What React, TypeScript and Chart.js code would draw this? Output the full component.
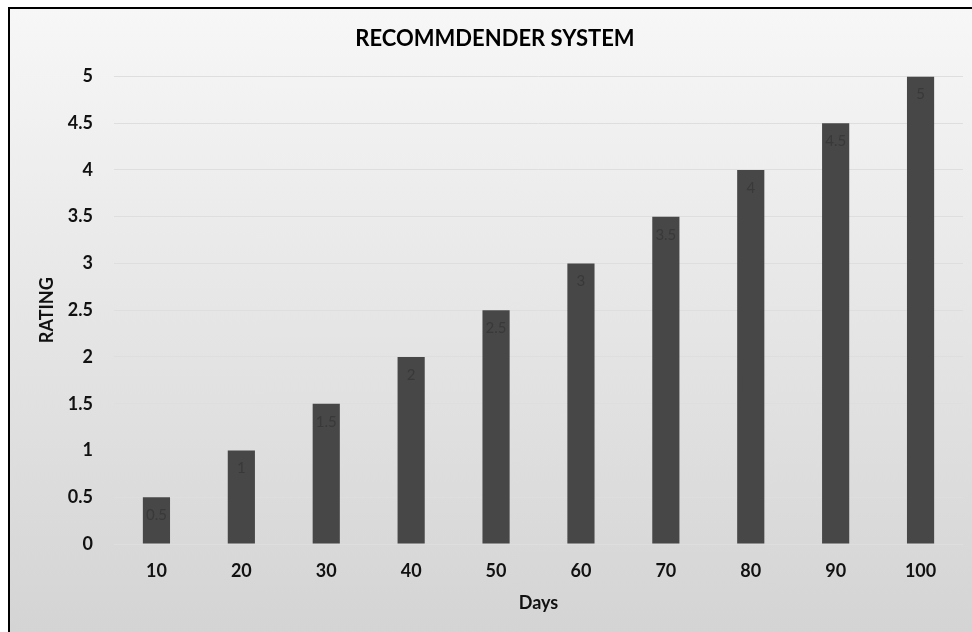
import React, { useEffect, useRef } from "react";
import { Chart, registerables } from "chart.js";

Chart.register(...registerables);

const days = ["10", "20", "30", "40", "50", "60", "70", "80", "90", "100"];
const ratings = [0.5, 1, 1.5, 2, 2.5, 3, 3.5, 4, 4.5, 5];
const yMin = 0;
const yMax = 5;
const yStep = 0.5;
const chartTitle = "RECOMMDENDER SYSTEM";
const xTitle = "Days";
const yTitle = "RATING";

const FONT = "Lato, 'Open Sans', 'Liberation Sans', sans-serif";

const dataLabelPlugin = {
  id: "innerLabels",
  afterDatasetsDraw(chart: any) {
    const { ctx } = chart;
    const meta = chart.getDatasetMeta(0);
    ctx.save();
    ctx.font = `15px ${FONT}`;
    ctx.fillStyle = "#393939";
    ctx.textAlign = "center";
    ctx.textBaseline = "middle";
    meta.data.forEach((el: any, i: number) => {
      ctx.fillText(String(ratings[i]), el.x, el.y + 18);
    });
    ctx.restore();
  },
};

export default function App() {
  const ref = useRef<HTMLCanvasElement | null>(null);
  useEffect(() => {
    if (!ref.current) return;
    const chart = new Chart(ref.current, {
      type: "bar",
      data: {
        labels: days,
        datasets: [
          {
            data: ratings,
            backgroundColor: "#474747",
            borderWidth: 0,
            categoryPercentage: 1,
            barPercentage: 0.32,
          },
        ],
      },
      options: {
        responsive: false,
        animation: false,
        layout: { padding: { left: 17, right: 9, top: 0, bottom: 0 } },
        plugins: {
          legend: { display: false },
          tooltip: { enabled: false },
          title: {
            display: true,
            text: chartTitle,
            color: "#000",
            font: { family: FONT, size: 22, weight: "bold" },
            padding: { top: 17, bottom: 24 },
          },
        },
        scales: {
          x: {
            grid: { display: false, drawTicks: false },
            border: { display: false },
            ticks: {
              color: "#111",
              font: { family: FONT, size: 18, weight: "bold" },
              padding: 16,
            },
            title: {
              display: true,
              text: xTitle,
              color: "#111",
              font: { family: FONT, size: 18, weight: "bold" },
              padding: { top: 4, bottom: 18 },
            },
            afterFit(scale: any) {
              scale.height = 88;
            },
          },
          y: {
            min: yMin,
            max: yMax,
            grid: { color: "#dedede", drawTicks: false, lineWidth: 1 },
            border: { display: false },
            ticks: {
              stepSize: yStep,
              color: "#111",
              font: { family: FONT, size: 18, weight: "bold" },
              padding: 21,
              callback: (v: any) => String(Number(v)),
            },
            title: {
              display: true,
              text: yTitle,
              color: "#111",
              font: { family: FONT, size: 18, weight: "bold" },
              padding: { top: 9, bottom: 4 },
            },
            afterFit(scale: any) {
              scale.width = 87;
            },
          },
        },
      },
      plugins: [dataLabelPlugin],
    } as any);
    return () => chart.destroy();
  }, []);

  return (
    <div
      style={{
        position: "fixed",
        left: 8,
        top: 7,
        width: 964,
        height: 625,
        boxSizing: "border-box",
        borderTop: "2px solid #000",
        borderLeft: "2px solid #000",
        background: "linear-gradient(to bottom, #f7f7f7, #d4d4d4)",
      }}
    >
      <canvas
        ref={ref}
        width={962}
        height={623}
        style={{ width: 962, height: 623, display: "block" }}
      />
    </div>
  );
}
